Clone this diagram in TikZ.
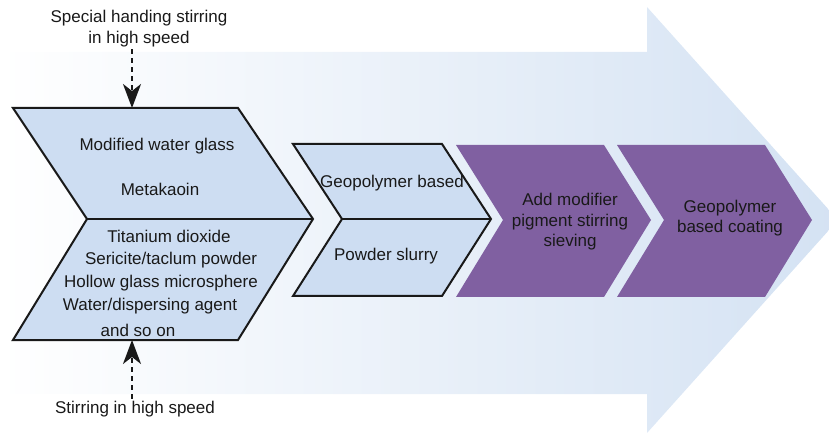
\documentclass[tikz,border=0pt]{standalone}
\usepackage{fontspec}
\setmainfont{Liberation Sans}
\usetikzlibrary{arrows.meta}
\definecolor{bandblue}{RGB}{212,226,243}
\definecolor{boxblue}{RGB}{205,221,242}
\definecolor{boxpurple}{RGB}{128,96,161}
\definecolor{ink}{RGB}{25,25,25}
\tikzset{lbl/.style = {font = \fontsize{17}{21}\selectfont, text = ink, align = center, inner sep = 0},
  feed/.style = {ink, line width = 2pt, dash pattern = on 5pt off 4pt, -{Stealth[length = 24pt, width = 18pt, inset = 7pt]}},
  chev/.style = {fill = boxblue, draw = ink, line width = 2pt, line join = miter}}

\begin{document}
\begin{tikzpicture}[x = 1pt, y = -1pt]
      \useasboundingbox (0, 0) rectangle (829, 435);
      \clip (0, 0) rectangle (829, 435);

      \shade [left color = white, right color = bandblue] (0, 52) -- (647, 52) -- (647, 7) -- (838, 220) -- (647, 433) -- (647, 394) -- (0, 394) -- cycle;

      \draw [chev] (13, 108) -- (238, 108) -- (313, 219) -- (238, 340) -- (13, 340) -- (87, 219) -- cycle;
      \draw [chev] (87, 219) -- (313, 219);
      \draw [chev] (293, 144) -- (442, 144) -- (491, 219) -- (442, 296) -- (293, 296) -- (342, 219) -- cycle;
      \draw [chev] (342, 219) -- (491, 219);

      \foreach \x in {456, 617} {
        \fill [boxpurple] (\x, 145) -- ++(148, 0) -- ++(47, 75) -- ++(-47, 77) -- ++(-148, 0) -- ++(47, -77) -- cycle;
      }

      \coordinate (mixtop) at (132, 108);
      \coordinate (mixbot) at (132, 340);

      \node [lbl, inner sep = 2pt] (topnote) at (139, 28.5) {Special handing stirring\\in high speed};
      \node [lbl, inner sep = 2pt] (botnote) at (135, 409) {Stirring in high speed};

      \node [lbl] (glass) at (157, 146) {Modified water glass};
      \node [lbl] (meta) at (160, 189) {Metakaoin};
      \node [lbl] (tio) at (169, 236) {Titanium dioxide};
      \node [lbl] (sericite) at (171, 260) {Sericite/taclum powder};
      \node [lbl] (hollow) at (161, 283) {Hollow glass microsphere};
      \node [lbl] (water) at (150, 306) {Water/dispersing agent};
      \node [lbl] (soon) at (138, 330) {and so on};

      \node [lbl] (geo) at (392, 183) {Geopolymer based};
      \node [lbl] (slurry) at (386, 256) {Powder slurry};

      \node [lbl, font = \fontsize{17}{20.5}\selectfont] (modify) at (570, 222) {Add modifier\\pigment stirring\\sieving};
      \node [lbl, font = \fontsize{17}{20}\selectfont] (coating) at (730, 218) {Geopolymer\\based coating};

      \draw [feed] (topnote.south -| mixtop) -- (mixtop);
      \draw [feed] (botnote.north -| mixbot) -- (mixbot);
    \end{tikzpicture}
\end{document}
